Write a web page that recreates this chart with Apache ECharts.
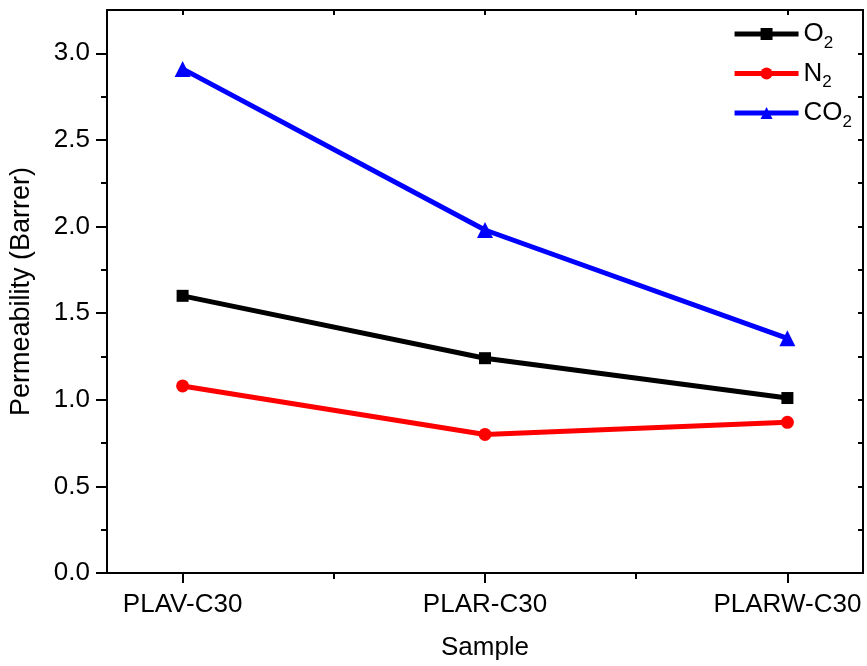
<!DOCTYPE html>
<html><head><meta charset="utf-8">
<script src="https://cdn.jsdelivr.net/npm/echarts@6/dist/echarts.min.js"></script>
<style>html,body{margin:0;padding:0;background:#fff}#c{width:867px;height:666px}</style>
</head><body><div id="c"></div>
<script>
const categories = ['PLAV-C30', 'PLAR-C30', 'PLARW-C30'];
const o2 = [1.60, 1.24, 1.01];
const n2 = [1.08, 0.80, 0.87];
const co2 = [2.91, 1.98, 1.355];
const yMajor = [0, 0.5, 1.0, 1.5, 2.0, 2.5, 3.0];
const yMinor = [0.25, 0.75, 1.25, 1.75, 2.25, 2.75];
const xMajor = [0, 1, 2];
const xMinor = [0.5, 1.5];
const seriesNames = ['O2', 'N2', 'CO2'];

const FONT = 'Liberation Sans, Arial, sans-serif';
const chart = echarts.init(document.getElementById('c'));
const pts = arr => arr.map((v, i) => [i, v]);
const lineAx = {show: true, onZero: false, lineStyle: {color: '#000', width: 2}};
const noLine = {show: false, onZero: false};
const grid = {left: 107, right: 4, top: 10, bottom: 92};
const xBase = {type: 'value', min: -0.25, max: 2.25, splitLine: {show: false}};
const yBase = {type: 'value', min: 0, max: 3.25, splitLine: {show: false}};

chart.setOption({
  animation: false,
  backgroundColor: '#fff',
  grid: grid,
  legend: {
    orient: 'vertical', right: 10, top: 16, itemGap: 9,
    itemWidth: 64, itemHeight: 15,
    data: seriesNames,
    lineStyle: {width: 5},
    formatter: n => n.replace(/2$/, '{sub|2}'),
    textStyle: {fontFamily: FONT, fontSize: 26, color: '#000',
      rich: {sub: {fontFamily: FONT, fontSize: 17, color: '#000', verticalAlign: 'bottom', padding: [18, 0, 0, 0]}}}
  },
  xAxis: [
    Object.assign({}, xBase, {position: 'bottom', axisLine: lineAx,
      axisTick: {show: true, inside: false, length: 10, lineStyle: {width: 2, color: '#000'}, customValues: xMajor},
      axisLabel: {show: true, customValues: xMajor, margin: 19, fontFamily: FONT, fontSize: 26, color: '#000',
        formatter: v => categories[Math.round(v)] || ''},
      name: 'Sample', nameLocation: 'middle', nameGap: 62,
      nameTextStyle: {fontFamily: FONT, fontSize: 26, color: '#000'}}),
    Object.assign({}, xBase, {position: 'bottom', axisLine: noLine,
      axisTick: {show: true, inside: false, length: 6, lineStyle: {width: 2, color: '#000'}, customValues: xMinor},
      axisLabel: {show: false}}),
    Object.assign({}, xBase, {position: 'top', axisLine: lineAx,
      axisTick: {show: true, inside: true, length: 5, lineStyle: {width: 2, color: '#000'}, customValues: xMajor.concat(xMinor)},
      axisLabel: {show: false}})
  ],
  yAxis: [
    Object.assign({}, yBase, {position: 'left', axisLine: lineAx,
      axisTick: {show: true, inside: false, length: 11, lineStyle: {width: 2, color: '#000'}, customValues: yMajor},
      axisLabel: {show: true, customValues: yMajor, margin: 17, fontFamily: FONT, fontSize: 26, color: '#000',
        formatter: v => v.toFixed(1)},
      name: 'Permeability (Barrer)', nameLocation: 'middle', nameGap: 72,
      nameTextStyle: {fontFamily: FONT, fontSize: 27, color: '#000'}}),
    Object.assign({}, yBase, {position: 'left', axisLine: noLine,
      axisTick: {show: true, inside: false, length: 6, lineStyle: {width: 2, color: '#000'}, customValues: yMinor},
      axisLabel: {show: false}}),
    Object.assign({}, yBase, {position: 'right', axisLine: lineAx,
      axisTick: {show: true, inside: true, length: 5, lineStyle: {width: 2, color: '#000'}, customValues: yMajor.concat(yMinor)},
      axisLabel: {show: false}})
  ],
  series: [
    {name: 'O2', type: 'line', data: pts(o2), symbol: 'rect', symbolSize: 12,
      lineStyle: {color: '#000', width: 5}, itemStyle: {color: '#000'}},
    {name: 'N2', type: 'line', data: pts(n2), symbol: 'circle', symbolSize: 13,
      lineStyle: {color: '#ff0000', width: 5}, itemStyle: {color: '#ff0000'}},
    {name: 'CO2', type: 'line', data: pts(co2), symbol: 'triangle', symbolSize: 16,
      lineStyle: {color: '#0000ff', width: 5}, itemStyle: {color: '#0000ff'}}
  ]
});
</script></body></html>
